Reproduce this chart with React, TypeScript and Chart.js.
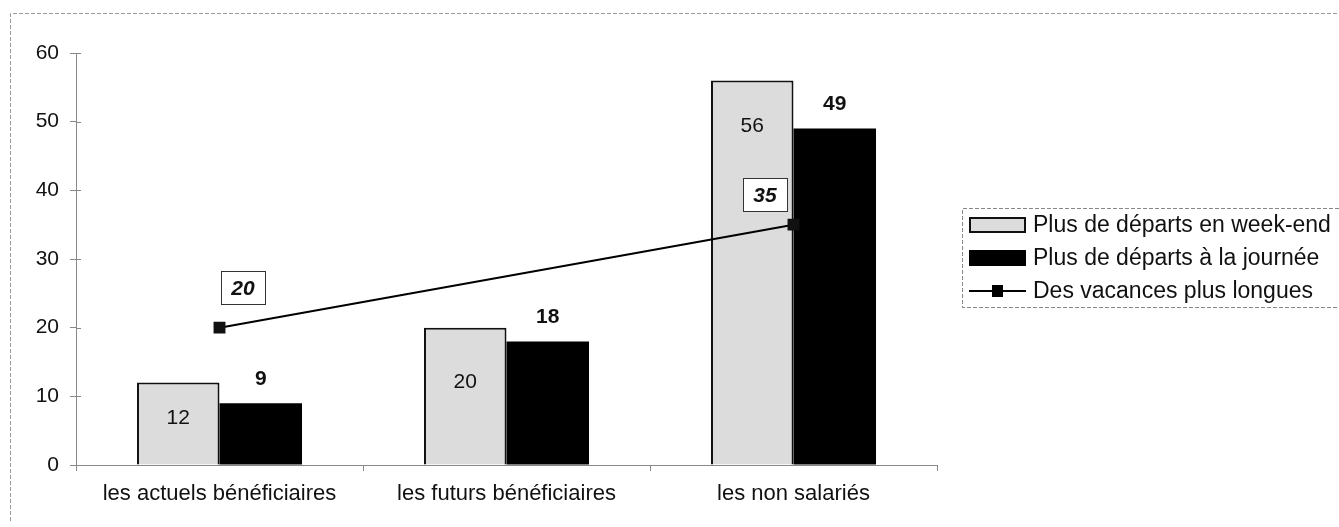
import React, { useEffect, useRef } from "react";
import { Chart, registerables } from "chart.js";

Chart.register(...registerables);

const categories = ["les actuels bénéficiaires", "les futurs bénéficiaires", "les non salariés"];
const weekEnd = [12, 20, 56];
const journee = [9, 18, 49];
const vacances = [20, null, 35];
const seriesNames = ["Plus de départs en week-end", "Plus de départs à la journée", "Des vacances plus longues"];
const yTicks = [0, 10, 20, 30, 40, 50, 60];

const FONT = "Arial, 'Liberation Sans', sans-serif";
const LIGHT = "#dcdcdc";

const lightLabelOffsets = [36, 55, 46];
const lineLabelOffsets = [
  [23, -40],
  [0, -30],
  [-29, -30],
];

const decorPlugin = {
  id: "decor",
  afterDraw(chart: any) {
    const ctx = chart.ctx;
    ctx.save();
    // outer frame (top and left edges visible)
    ctx.strokeStyle = "#9a9a9a";
    ctx.lineWidth = 1;
    ctx.setLineDash([4, 2]);
    ctx.beginPath();
    ctx.moveTo(10.5, 521);
    ctx.lineTo(10.5, 13.5);
    ctx.lineTo(1339, 13.5);
    ctx.stroke();
    ctx.setLineDash([]);

    // inner tick halves on y axis
    const ys = chart.scales.y;
    const xs = chart.scales.x;
    ctx.strokeStyle = "#888";
    ctx.lineWidth = 1;
    ctx.beginPath();
    yTicks.forEach((v) => {
      const py = Math.round(ys.getPixelForValue(v)) + 0.5;
      ctx.moveTo(ys.right, py);
      ctx.lineTo(ys.right + 5, py);
    });
    ctx.stroke();

    // bar labels
    const m0 = chart.getDatasetMeta(0);
    const m1 = chart.getDatasetMeta(1);
    const m2 = chart.getDatasetMeta(2);
    ctx.textAlign = "center";
    ctx.textBaseline = "middle";
    ctx.fillStyle = "#111";
    ctx.font = `21px ${FONT}`;
    m0.data.forEach((el: any, i: number) => {
      ctx.fillText(String(weekEnd[i]), el.x, el.y + lightLabelOffsets[i]);
    });
    ctx.font = `bold 21px ${FONT}`;
    m1.data.forEach((el: any, i: number) => {
      ctx.fillText(String(journee[i]), el.x, el.y - 24);
    });
    // line labels in boxes
    ctx.font = `italic bold 21px ${FONT}`;
    m2.data.forEach((el: any, i: number) => {
      const v = vacances[i];
      if (v === null || v === undefined) return;
      const [dx, dy] = lineLabelOffsets[i];
      const cx = Math.round(el.x + dx);
      const cy = Math.round(el.y + dy);
      ctx.fillStyle = "#fff";
      ctx.fillRect(cx - 22, cy - 17, 44, 33);
      ctx.strokeStyle = "#333";
      ctx.lineWidth = 1;
      ctx.strokeRect(cx - 22 + 0.5, cy - 17 + 0.5, 44, 33);
      ctx.fillStyle = "#111";
      ctx.fillText(String(v), cx, cy + 1);
    });

    // legend
    const lx = 962, ly = 208;
    ctx.strokeStyle = "#888";
    ctx.lineWidth = 1;
    ctx.setLineDash([4, 2]);
    ctx.beginPath();
    ctx.moveTo(1339, ly + 0.5);
    ctx.lineTo(lx + 0.5, ly + 0.5);
    ctx.lineTo(lx + 0.5, 307.5);
    ctx.lineTo(1339, 307.5);
    ctx.stroke();
    ctx.setLineDash([]);
    ctx.font = `23px ${FONT}`;
    ctx.textAlign = "left";
    const rows = [225, 258, 291];
    // item 1
    ctx.fillStyle = LIGHT;
    ctx.fillRect(970, rows[0] - 7, 55, 14);
    ctx.strokeStyle = "#111";
    ctx.lineWidth = 2;
    ctx.strokeRect(970, rows[0] - 7, 55, 14);
    // item 2
    ctx.fillStyle = "#000";
    ctx.fillRect(969, rows[1] - 8, 57, 16);
    // item 3
    ctx.strokeStyle = "#000";
    ctx.lineWidth = 2;
    ctx.beginPath();
    ctx.moveTo(969, rows[2]);
    ctx.lineTo(1026, rows[2]);
    ctx.stroke();
    ctx.fillStyle = "#000";
    ctx.fillRect(992, rows[2] - 6, 11, 12);
    ctx.fillStyle = "#111";
    seriesNames.forEach((n, i) => ctx.fillText(n, 1033, rows[i] + 1));
    ctx.restore();
  },
};

export default function App() {
  const ref = useRef<HTMLCanvasElement | null>(null);
  useEffect(() => {
    if (!ref.current) return;
    const chart = new Chart(ref.current, {
      type: "bar",
      data: {
        labels: categories,
        datasets: [
          {
            type: "bar",
            label: seriesNames[0],
            data: weekEnd,
            backgroundColor: LIGHT,
            borderColor: "#111",
            borderWidth: 2,
            borderSkipped: "bottom",
            categoryPercentage: 0.575,
            barPercentage: 1,
            order: 2,
          },
          {
            type: "bar",
            label: seriesNames[1],
            data: journee,
            backgroundColor: "#000",
            borderColor: "#000",
            borderWidth: 0,
            categoryPercentage: 0.575,
            barPercentage: 1,
            order: 2,
          },
          {
            type: "line",
            label: seriesNames[2],
            data: vacances as any,
            spanGaps: true,
            borderColor: "#000",
            backgroundColor: "#000",
            borderWidth: 2,
            pointStyle: "rect",
            pointRadius: 7,
            pointBackgroundColor: "#111",
            pointBorderColor: "#111",
            order: 1,
          } as any,
        ],
      },
      options: {
        animation: false,
        responsive: true,
        maintainAspectRatio: false,
        layout: { padding: { left: 10, top: 53, right: 402, bottom: 0 } },
        plugins: { legend: { display: false }, tooltip: { enabled: false } },
        scales: {
          x: {
            grid: { display: true, drawOnChartArea: false, color: "#888", tickLength: 6, offset: true },
            border: { color: "#888", width: 1 },
            ticks: { color: "#111", font: { family: FONT, size: 22 }, padding: 10 },
            afterFit(scale: any) {
              scale.height = 62;
            },
          },
          y: {
            min: 0,
            max: 60,
            afterBuildTicks(scale: any) {
              scale.ticks = yTicks.map((v) => ({ value: v }));
            },
            grid: { display: true, drawOnChartArea: false, color: "#888", tickLength: 6 },
            border: { color: "#888", width: 1 },
            ticks: { color: "#111", font: { family: FONT, size: 21 }, padding: 11 },
            afterFit(scale: any) {
              scale.width = 66;
            },
          },
        },
      },
      plugins: [decorPlugin],
    });
    return () => chart.destroy();
  }, []);
  return (
    <div style={{ position: "fixed", left: 0, top: 0, width: 1339, height: 527, background: "#fff" }}>
      <canvas ref={ref} />
    </div>
  );
}
